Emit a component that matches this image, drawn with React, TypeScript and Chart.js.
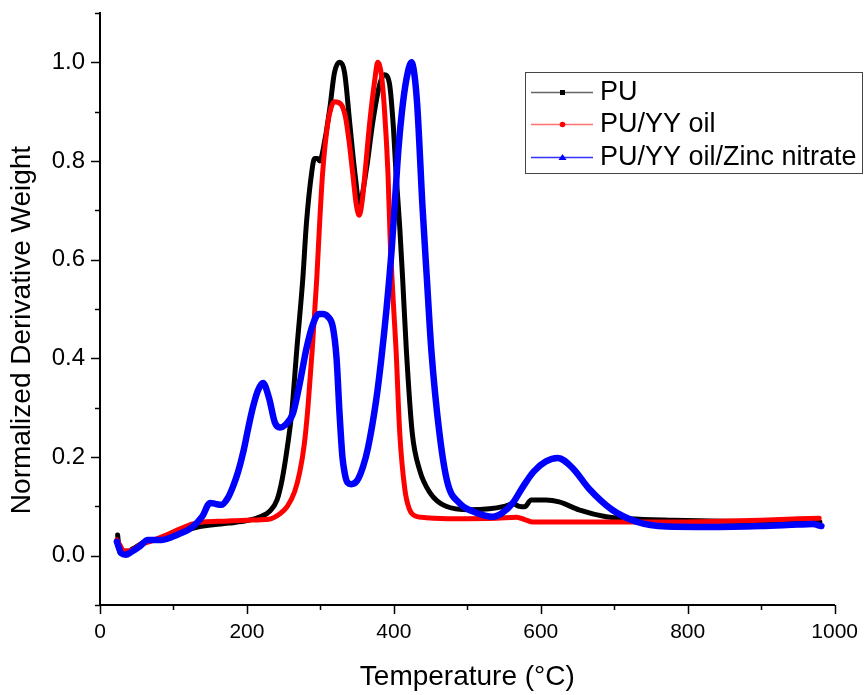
import React, { useEffect, useRef } from "react";
import { Chart, registerables } from "chart.js";

Chart.register(...registerables);

// ---- Data ----
const xTicks = [0, 200, 400, 600, 800, 1000];
const yTicks = [0.0, 0.2, 0.4, 0.6, 0.8, 1.0];
const seriesNames = ["PU", "PU/YY oil", "PU/YY oil/Zinc nitrate"];

const puTemp = [24, 27, 33, 45, 60, 80, 100, 130, 175, 200, 220, 231, 241, 248, 255, 261, 268, 276, 281, 288, 292, 296, 299, 306, 313, 319, 326, 333, 340, 347, 353, 363, 371, 381, 387, 394, 399, 403, 408, 412, 417, 425, 435, 449, 471, 503, 530, 550, 562, 571, 578, 587, 607, 625, 652, 689, 720, 780, 850, 920, 980];
const puValue = [0.042, 0.006, 0.004, 0.014, 0.027, 0.033, 0.042, 0.057, 0.066, 0.071, 0.08, 0.09, 0.113, 0.155, 0.22, 0.29, 0.42, 0.56, 0.674, 0.775, 0.805, 0.805, 0.8, 0.842, 0.909, 0.978, 1.0, 0.978, 0.876, 0.775, 0.715, 0.787, 0.876, 0.957, 0.975, 0.957, 0.876, 0.775, 0.666, 0.56, 0.417, 0.249, 0.174, 0.128, 0.1, 0.093, 0.095, 0.1, 0.105, 0.1, 0.099, 0.113, 0.113, 0.109, 0.093, 0.079, 0.075, 0.072, 0.07, 0.069, 0.068];

const oilTemp = [23, 27, 32, 40, 55, 70, 90, 110, 125, 140, 170, 200, 230, 245, 255, 265, 272, 278, 283, 289, 295, 299, 303, 310, 315, 319, 328, 334, 339, 344, 349, 353, 357, 361, 367, 374, 378, 383, 387, 392, 395, 399, 403, 408, 415, 421, 430, 444, 480, 540, 567, 580, 589, 650, 750, 815, 900, 979];
const oilValue = [0.032, 0.022, 0.01, 0.01, 0.022, 0.03, 0.042, 0.055, 0.064, 0.068, 0.07, 0.072, 0.074, 0.085, 0.1, 0.13, 0.17, 0.225, 0.3, 0.42, 0.56, 0.675, 0.775, 0.876, 0.91, 0.92, 0.915, 0.89, 0.84, 0.775, 0.71, 0.69, 0.72, 0.78, 0.876, 0.964, 1.0, 0.975, 0.909, 0.775, 0.64, 0.52, 0.417, 0.249, 0.134, 0.095, 0.08, 0.077, 0.075, 0.076, 0.078, 0.072, 0.068, 0.068, 0.068, 0.069, 0.072, 0.076];

const zincTemp = [23, 29, 35, 43, 55, 65, 84, 106, 125, 139, 150, 157, 165, 174, 181, 188, 195, 202, 208, 215, 222, 230, 238, 245, 252, 263, 272, 281, 290, 298, 303, 310, 317, 322, 326, 330, 333, 337, 342, 350, 358, 365, 376, 383, 390, 397, 402, 406, 411, 417, 424, 428, 432, 439, 445, 451, 462, 473, 489, 512, 535, 546, 562, 575, 590, 607, 623, 643, 666, 697, 730, 771, 830, 900, 950, 970, 982];
const zincValue = [0.028, 0.005, 0.002, 0.008, 0.02, 0.032, 0.032, 0.043, 0.057, 0.079, 0.107, 0.105, 0.103, 0.117, 0.14, 0.17, 0.21, 0.26, 0.3, 0.335, 0.35, 0.32, 0.27, 0.26, 0.265, 0.29, 0.35, 0.42, 0.47, 0.49, 0.49, 0.485, 0.463, 0.4, 0.29, 0.2, 0.168, 0.148, 0.145, 0.152, 0.18, 0.22, 0.316, 0.4, 0.5, 0.62, 0.73, 0.82, 0.9, 0.965, 1.0, 0.975, 0.909, 0.707, 0.56, 0.417, 0.249, 0.148, 0.107, 0.087, 0.079, 0.085, 0.107, 0.138, 0.17, 0.191, 0.198, 0.178, 0.135, 0.093, 0.069, 0.059, 0.058, 0.06, 0.063, 0.064, 0.06];

const colors = ["#000000", "#ff0000", "#0000ff"];
const FONT = '"Liberation Sans", Arial, Helvetica, sans-serif';

const toPoints = (xs: number[], ys: number[]) => xs.map((x, i) => ({ x, y: ys[i] }));

const axisPlugin = {
  id: "axisDecor",
  afterDraw(chart: any) {
    const ctx = chart.ctx as CanvasRenderingContext2D;
    const xs = chart.scales.x;
    const ys = chart.scales.y;
    const area = chart.chartArea;
    ctx.save();
    ctx.strokeStyle = "#000";
    ctx.lineWidth = 1.5;
    for (let v = 0; v <= 1000; v += 100) {
      const px = Math.round(xs.getPixelForValue(v)) + 0.5;
      const len = v % 200 === 0 ? 9 : 5;
      ctx.beginPath();
      ctx.moveTo(px, area.bottom);
      ctx.lineTo(px, area.bottom + len);
      ctx.stroke();
    }
    for (let k = -1; k <= 11; k++) {
      const v = k / 10;
      const py = Math.round(ys.getPixelForValue(v)) + 0.5;
      const len = k % 2 === 0 ? 9 : 5;
      ctx.beginPath();
      ctx.moveTo(area.left, py);
      ctx.lineTo(area.left - len, py);
      ctx.stroke();
    }
    ctx.fillStyle = "#000";
    ctx.font = `28px ${FONT}`;
    ctx.textAlign = "center";
    ctx.textBaseline = "middle";
    ctx.fillText("Temperature (°C)", (area.left + area.right) / 2, 677);
    ctx.save();
    ctx.translate(22, 330);
    ctx.rotate(-Math.PI / 2);
    ctx.fillText("Normalized Derivative Weight", 0, 0);
    ctx.restore();

    const bx = 525, by = 72, bw = 337, bh = 101;
    ctx.fillStyle = "#fff";
    ctx.fillRect(bx, by, bw, bh);
    ctx.strokeStyle = "#444";
    ctx.lineWidth = 1;
    ctx.strokeRect(bx + 0.5, by + 0.5, bw, bh);
    ctx.save();
    ctx.beginPath();
    ctx.rect(bx, by, bw, bh);
    ctx.clip();
    const rows = [92, 124, 157];
    ctx.font = `27px ${FONT}`;
    ctx.textAlign = "left";
    ctx.textBaseline = "middle";
    seriesNames.forEach((name, i) => {
      const y = rows[i];
      const c = colors[i];
      ctx.strokeStyle = i === 0 ? "#666" : i === 1 ? "#ff7070" : "#3030ff";
      ctx.lineWidth = 1.5;
      ctx.beginPath();
      ctx.moveTo(531, y + 0.5);
      ctx.lineTo(593, y + 0.5);
      ctx.stroke();
      ctx.fillStyle = c;
      if (i === 0) {
        ctx.fillRect(560, y - 2, 5, 5);
      } else if (i === 1) {
        ctx.beginPath();
        ctx.arc(562.5, y + 0.5, 2.8, 0, Math.PI * 2);
        ctx.fill();
      } else {
        ctx.beginPath();
        ctx.moveTo(562.5, y - 3);
        ctx.lineTo(566.5, y + 3);
        ctx.lineTo(558.5, y + 3);
        ctx.closePath();
        ctx.fill();
      }
      ctx.fillStyle = "#000";
      ctx.fillText(name, 600, y + 1);
    });
    ctx.restore();
    ctx.restore();
  },
};

export default function App() {
  const ref = useRef<HTMLCanvasElement>(null);
  useEffect(() => {
    if (!ref.current) return;
    const chart = new Chart(ref.current, {
      type: "line",
      data: {
        datasets: [
          { label: seriesNames[0], data: toPoints(puTemp, puValue), borderColor: colors[0], borderWidth: 5, order: 2 },
          { label: seriesNames[1], data: toPoints(oilTemp, oilValue), borderColor: colors[1], borderWidth: 5, order: 1 },
          { label: seriesNames[2], data: toPoints(zincTemp, zincValue), borderColor: colors[2], borderWidth: 6.5, order: 0 },
        ].map((d) => ({ ...d, pointRadius: 0, fill: false, cubicInterpolationMode: "monotone" as const, borderJoinStyle: "round" as const, borderCapStyle: "round" as const })),
      },
      options: {
        responsive: false,
        animation: false,
        devicePixelRatio: 1,
        layout: { padding: { left: 0, right: 28, top: 13, bottom: 0 } },
        plugins: { legend: { display: false }, tooltip: { enabled: false } },
        scales: {
          x: {
            type: "linear",
            min: 0,
            max: 1000,
            afterFit: (s: any) => { s.height = 90; },
            ticks: {
              stepSize: 100,
              autoSkip: false,
              maxRotation: 0,
              padding: 6,
              color: "#000",
              font: { family: FONT, size: 21 },
              callback: (v: any) => (xTicks.includes(Number(v)) ? String(v) : ""),
            },
            grid: { display: true, drawOnChartArea: false, drawTicks: true, tickLength: 9, color: "rgba(0,0,0,0)", tickColor: "rgba(0,0,0,0)" },
            border: { display: true, color: "#000", width: 2 },
          },
          y: {
            type: "linear",
            min: -0.1,
            max: 1.1,
            afterFit: (s: any) => { s.width = 100; s.paddingTop = 0; s.paddingBottom = 0; },
            ticks: {
              stepSize: 0.1,
              autoSkip: false,
              padding: 6,
              color: "#000",
              font: { family: FONT, size: 24 },
              callback: (v: any) => {
                const r = Math.round(Number(v) * 10) / 10;
                return yTicks.some((t) => Math.abs(t - r) < 1e-9) ? r.toFixed(1) : "";
              },
            },
            grid: { display: true, drawOnChartArea: false, drawTicks: true, tickLength: 9, color: "rgba(0,0,0,0)", tickColor: "rgba(0,0,0,0)" },
            border: { display: true, color: "#000", width: 2 },
          },
        },
      },
      plugins: [axisPlugin],
    });
    return () => chart.destroy();
  }, []);
  return (
    <div style={{ position: "absolute", left: 0, top: 0, width: 864, height: 695, background: "#fff" }}>
      <canvas ref={ref} width={864} height={695} />
    </div>
  );
}
